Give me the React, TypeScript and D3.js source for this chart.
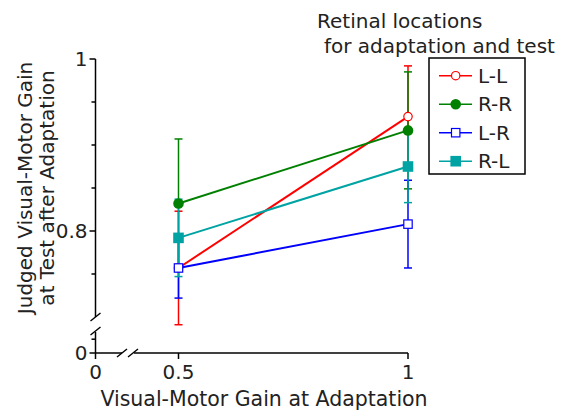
import React from "react";
import * as d3 from "d3";

const gains = [0.5, 1];
const seriesNames = ["L-L", "R-R", "L-R", "R-L"];
const seriesColors = ["#ff0000", "#008000", "#0000ff", "#00a3a3"];
const seriesMarkers = ["openCircle", "circle", "openSquare", "square"];
const llMean = [0.757, 0.933];
const llErr = [0.066, 0.059];
const rrMean = [0.832, 0.917];
const rrErr = [0.075, 0.068];
const lrMean = [0.757, 0.808];
const lrErr = [0.035, 0.051];
const rlMean = [0.792, 0.875];
const rlErr = [0.045, 0.042];
const yMajorTicks = [0.8, 1];
const yMinorTicks = [0.75, 0.85, 0.9, 0.95];
const xTicks = [0.5, 1];

const font = "'DejaVu Sans', 'Noto Sans', sans-serif";

export default function App() {
  const width = 563,
    height = 410;

  // upper (broken) segment of the y axis and the lower stub near zero
  const y = d3.scaleLinear().domain([0.7, 1]).range([317, 59]);
  const yLow = d3.scaleLinear().domain([0, 0.1]).range([353, 307]);
  const x = d3.scaleLinear().domain([0.5, 1]).range([178.5, 408]);
  const xLow = d3.scaleLinear().domain([0, 0.1]).range([95.5, 148.5]);

  const series = [
    { mean: llMean, err: llErr },
    { mean: rrMean, err: rrErr },
    { mean: lrMean, err: lrErr },
    { mean: rlMean, err: rlErr },
  ].map((s, i) => ({
    ...s,
    name: seriesNames[i],
    color: seriesColors[i],
    marker: seriesMarkers[i],
  }));

  const line = d3
    .line<number>()
    .x((d, i) => x(gains[i]))
    .y((d) => y(d));

  const marker = (type: string, color: string, cx: number, cy: number) => {
    if (type === "openCircle")
      return <circle cx={cx} cy={cy} r={4.2} fill="white" stroke={color} strokeWidth={1.2} />;
    if (type === "circle") return <circle cx={cx} cy={cy} r={5.3} fill={color} />;
    if (type === "openSquare")
      return <rect x={cx - 4.2} y={cy - 4.2} width={8.4} height={8.4} fill="white" stroke={color} strokeWidth={1.2} />;
    return <rect x={cx - 5.3} y={cy - 5.3} width={10.6} height={10.6} fill={color} />;
  };

  const axisX = xLow(0);
  const axisY = yLow(0);
  const tick = 6;
  const xBreak = xLow(0.05);
  const yBreak = yLow(0.05);

  return (
    <svg
      width={width}
      height={height}
      style={{ position: "absolute", left: 0, top: 0, background: "white" }}
      fontFamily={font}
    >
      <g stroke="black" strokeWidth={1.5} fill="none">
        {/* y axis: upper segment, break, lower stub */}
        <line x1={axisX} x2={axisX} y1={y(1)} y2={y(0.7)} />
        <line x1={axisX} x2={axisX} y1={yBreak + 2} y2={axisY} />
        <line x1={axisX - 5} x2={axisX + 5} y1={y(0.7) + 4} y2={y(0.7) - 4} />
        <line x1={axisX - 5} x2={axisX + 5} y1={yBreak + 5} y2={yBreak - 3} />
        {yMajorTicks.map((t) => (
          <line key={t} x1={axisX - tick} x2={axisX} y1={y(t)} y2={y(t)} />
        ))}
        {yMinorTicks.map((t) => (
          <line key={t} x1={axisX - 4} x2={axisX} y1={y(t)} y2={y(t)} />
        ))}
        <line x1={axisX - 4} x2={axisX} y1={yLow(0.03)} y2={yLow(0.03)} />
        <line x1={axisX - tick} x2={axisX} y1={axisY} y2={axisY} />

        {/* x axis: lower stub, break, upper segment */}
        <line x1={axisX} x2={xBreak} y1={axisY} y2={axisY} />
        <line x1={xBreak + 12} x2={x(1)} y1={axisY} y2={axisY} />
        <line x1={xBreak - 5} x2={xBreak + 5} y1={axisY + 4} y2={axisY - 4} />
        <line x1={xBreak + 6} x2={xBreak + 16} y1={axisY + 4} y2={axisY - 4} />
        <line x1={axisX} x2={axisX} y1={axisY} y2={axisY + tick} />
        {xTicks.map((t) => (
          <line key={t} x1={x(t)} x2={x(t)} y1={axisY} y2={axisY + tick} />
        ))}
      </g>

      {/* tick labels */}
      <g fontSize={20} fill="#222">
        {yMajorTicks.map((t) => (
          <text key={t} x={axisX - 8} y={y(t)} dy="0.36em" textAnchor="end">
            {t === 1 ? "1" : t.toFixed(1)}
          </text>
        ))}
        <text x={axisX - 8} y={axisY} dy="0.36em" textAnchor="end">
          0
        </text>
        <text x={axisX} y={axisY + 26} textAnchor="middle">
          0
        </text>
        {xTicks.map((t) => (
          <text key={t} x={x(t)} y={axisY + 26} textAnchor="middle">
            {t === 1 ? "1" : t.toFixed(1)}
          </text>
        ))}
      </g>

      {/* axis titles */}
      <text x={264} y={406} fontSize={20.5} textAnchor="middle" fill="#222">
        Visual-Motor Gain at Adaptation
      </text>
      <g transform="translate(0,188) rotate(-90)" fontSize={20} fill="#222" textAnchor="middle">
        <text x={0} y={32}>Judged Visual-Motor Gain</text>
        <text x={0} y={54}>at Test after Adaptation</text>
      </g>

      {/* error bars */}
      {series.map((s) => (
        <g key={s.name} stroke={s.color} strokeWidth={1.5}>
          {gains.map((g, i) => (
            <g key={g}>
              <line x1={x(g)} x2={x(g)} y1={y(s.mean[i] + s.err[i])} y2={y(s.mean[i] - s.err[i])} />
              <line x1={x(g) - 4} x2={x(g) + 4} y1={y(s.mean[i] + s.err[i])} y2={y(s.mean[i] + s.err[i])} />
              <line x1={x(g) - 4} x2={x(g) + 4} y1={y(s.mean[i] - s.err[i])} y2={y(s.mean[i] - s.err[i])} />
            </g>
          ))}
        </g>
      ))}

      {/* lines */}
      {series.map((s) => (
        <path key={s.name} d={line(s.mean) ?? ""} fill="none" stroke={s.color} strokeWidth={2} />
      ))}

      {/* markers */}
      {series.map((s) => (
        <g key={s.name}>
          {gains.map((g, i) => (
            <g key={g}>{marker(s.marker, s.color, x(g), y(s.mean[i]))}</g>
          ))}
        </g>
      ))}

      {/* legend */}
      <text x={317} y={28} fontSize={20} fill="#222">
        Retinal locations
      </text>
      <text x={324} y={53} fontSize={20} fill="#222">
        for adaptation and test
      </text>
      <rect x={429} y={58} width={96} height={116} fill="white" stroke="black" strokeWidth={1.5} />
      {series.map((s, i) => {
        const ly = 75.7 + i * 28.5;
        return (
          <g key={s.name}>
            <line x1={439} x2={472} y1={ly} y2={ly} stroke={s.color} strokeWidth={1.5} />
            {marker(s.marker, s.color, 455.7, ly)}
            <text x={478} y={ly} dy="0.36em" fontSize={20} fill="#222">
              {s.name}
            </text>
          </g>
        );
      })}
    </svg>
  );
}
